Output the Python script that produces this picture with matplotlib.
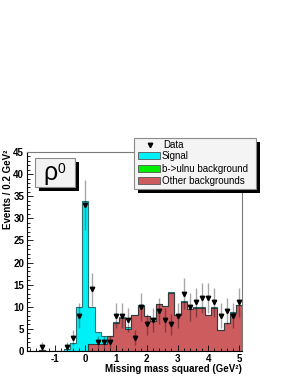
import numpy as np
import matplotlib.pyplot as plt
from matplotlib.patches import Rectangle
from matplotlib.ticker import MultipleLocator

plt.rcParams['font.family'] = ['Liberation Sans', 'DejaVu Sans']
plt.rcParams['axes.unicode_minus'] = False

# histogram binning: 35 bins of 0.2 GeV^2 starting at -1.9
bin_lo = -1.9
bin_width = 0.2
n_bins = 35

# observed events per bin
data_counts = [0, 0, 1, 0, 0, 0, 1, 3, 8, 33, 14, 2, 2, 2, 8, 8, 7, 3, 10, 6,
               7, 9, 7, 6, 8, 13, 10, 11, 12, 12, 11, 8, 9, 8, 11]
# stacked MC components
other_bkg = [0, 0, 0.25, 0, 0, 0, 0, 0, 0, 0, 1.6, 1.6, 1.6, 3.3, 6.4, 7.5, 5.0, 8.1, 10.2, 7.9,
             6.75, 10.6, 10.2, 13.2, 8.1, 11.1, 9.5, 9.8, 9.8, 8.1, 9.8, 4.8, 6.3, 8.7, 10.3]
bulnu_bkg = [0, 0, 0, 0, 0, 0, 0, 0, 0, 0, 0, 0, 0, 0, 0, 0, 0, 0, 0, 0,
             0, 0, 0, 0, 0, 0, 0, 0, 0, 0, 0, 0, 0, 0, 0]
signal = [0, 0, 0, 0, 0, 0.05, 0.45, 1.9, 10.0, 34.0, 8.4, 2.6, 1.7, 0.2, 0.1, 0.1, 0.4, 0.1, 0.1, 0.05,
          0.05, 0.05, 0.05, 0.05, 0.05, 0.3, 0.05, 0.05, 0.05, 0.05, 0.05, 0.05, 0.05, 0.05, 0.05]

legend_labels = ['Data', 'Signal', 'b->ulnu background', 'Other backgrounds']
col_signal = '#00f0f8'
col_bulnu = '#00ee00'
col_other = '#cd5c5f'

edges = bin_lo + bin_width * np.arange(n_bins + 1)
centers = edges[:-1] + bin_width / 2
data = np.array(data_counts, dtype=float)
other = np.array(other_bkg)
tot_green = other + np.array(bulnu_bkg)
tot_sig = tot_green + np.array(signal)

W, H = 291, 376
fig = plt.figure(figsize=(W / 100, H / 100), dpi=100)
ax = fig.add_axes([27 / W, 25 / H, 215 / W, 199 / H])

# stacked histogram
ax.stairs(tot_sig, edges, fill=True, color=col_signal, zorder=1)
ax.stairs(tot_green, edges, fill=True, color=col_bulnu, zorder=1)
ax.stairs(other, edges, fill=True, color=col_other, zorder=1)
ax.stairs(tot_sig, edges, color='#2f6f72', lw=0.8, zorder=2)
ax.stairs(other, edges, color='#3a3a3a', lw=0.8, zorder=2)

# data points with sqrt(N) errors
m = data > 0
err = np.sqrt(data[m])
ax.vlines(centers[m], data[m] - err, data[m] + err, color='k', alpha=0.35, lw=1, zorder=3)
ax.plot(centers[m], data[m], 'v', color='k', ms=3.2, zorder=4)

ax.set_xlim(bin_lo, edges[-1])
ax.set_ylim(0, 45)
ax.xaxis.set_major_locator(MultipleLocator(1))
ax.xaxis.set_minor_locator(MultipleLocator(0.2))
ax.yaxis.set_major_locator(MultipleLocator(5))
ax.yaxis.set_minor_locator(MultipleLocator(1))
ax.tick_params(which='both', direction='in', top=False, right=False,
               labelsize=7, width=0.6)
ax.tick_params(which='major', length=4)
ax.tick_params(which='minor', length=2)
ax.tick_params(axis='y', pad=2)
ax.tick_params(axis='x', pad=2)
for lab in ax.get_xticklabels() + ax.get_yticklabels():
    lab.set_fontweight('bold')
for s in ['top', 'right']:
    ax.spines[s].set_color('#7a7a7a')
    ax.spines[s].set_linewidth(0.8)
for s in ['left', 'bottom']:
    ax.spines[s].set_linewidth(0.8)

fig.text(242 / W, 1 - 372 / H, 'Missing mass squared (GeV²)', ha='right', va='baseline',
         fontsize=7, fontweight='bold')
fig.text(8.5 / W, 1 - 150 / H, 'Events / 0.2 GeV²', ha='center', va='top', rotation=90,
         fontsize=7, fontweight='bold')

# overlay in pixel coordinates for the boxes
ov = fig.add_axes([0, 0, 1, 1], zorder=5)
ov.set_xlim(0, W)
ov.set_ylim(H, 0)
ov.axis('off')

# rho0 label box
ov.add_patch(Rectangle((39, 162), 40, 28.5, color='black', lw=0))
ov.add_patch(Rectangle((35, 158.3), 40, 28.5, facecolor='#f2f2f2', edgecolor='#8a8a8a', lw=0.8))
ov.text(43, 180, 'ρ', fontsize=18, ha='left', va='baseline')
ov.text(57.5, 173, '0', fontsize=10, ha='left', va='baseline')

# legend box
ov.add_patch(Rectangle((137.5, 141.5), 122, 51, color='black', lw=0))
ov.add_patch(Rectangle((134, 138), 122, 51, facecolor='#f4f4f4', edgecolor='#8a8a8a', lw=0.8))
ov.plot([149.5], [145], 'v', color='k', ms=3.2)
ov.text(163, 145, legend_labels[0], fontsize=7, ha='left', va='center')
rows = [155.8, 168.6, 180.8]
cols = [col_signal, col_bulnu, col_other]
for y, c, lab in zip(rows, cols, legend_labels[1:]):
    ov.add_patch(Rectangle((138.3, y - 3.6), 21.7, 7.2, facecolor=c, edgecolor='#555555', lw=0.6))
    ov.text(162, y, lab, fontsize=7, ha='left', va='center')

fig.savefig('out.png', dpi=100)
